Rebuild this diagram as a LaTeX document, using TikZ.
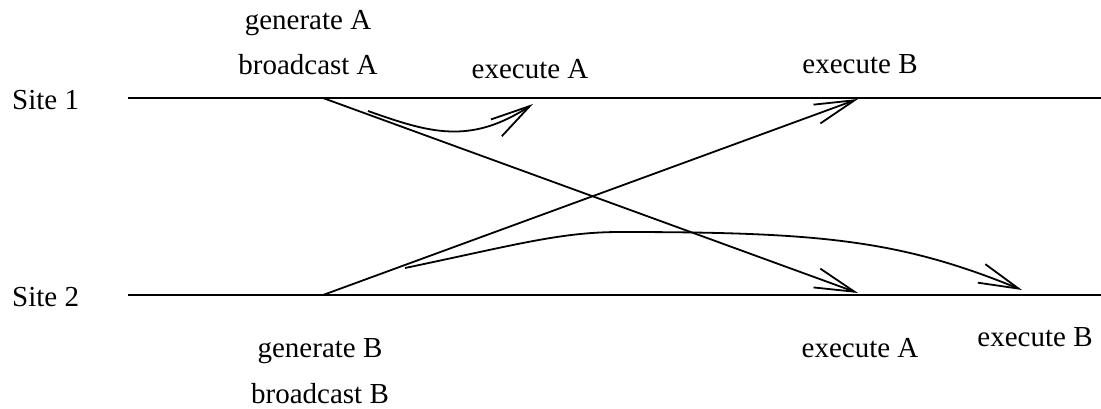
\documentclass[tikz,border=0pt]{standalone}
\usepackage{fontspec}
\setmainfont{Liberation Serif}
\usetikzlibrary{arrows.meta}
\begin{document}
\begin{tikzpicture}[x=1pt,y=-1pt]
	\tikzset{lbl/.style={anchor=base, inner sep=0pt, font=\rmfamily\fontsize{29}{34}\selectfont},
		msg/.style={line width=1.8pt, -{Straight Barb[length=40pt,width=20pt,line width=1.8pt]}}}
	\useasboundingbox (0,0) rectangle (1101,408);
	% time lines of the two sites
	\coordinate (s1a) at (128,98);
	\coordinate (s1b) at (1101,98);
	\coordinate (s2a) at (128,295);
	\coordinate (s2b) at (1101,295);
	\draw[line width=1.1pt] (s1a) -- (s1b);
	\draw[line width=1.1pt] (s2a) -- (s2b);
	\node[lbl,anchor=base west] (site1) at (12,109) {Site 1};
	\node[lbl,anchor=base west] (site2) at (12,306) {Site 2};
	% events
	\coordinate (genA)  at (323,98);
	\coordinate (genB)  at (323,295);
	\coordinate (exA2)  at (858,293);
	\coordinate (exB1)  at (858,99);
	\coordinate (locA0) at (368,111);
	\coordinate (locA1) at (533,104);
	\coordinate (locB0) at (405,268);
	\coordinate (locBm) at (620,232);
	\coordinate (locB1) at (1022,290);
	\draw[msg] (genA) -- (exA2);
	\draw[msg] (genB) -- (exB1);
	\draw[msg] (locA0) .. controls (430,133) and (470,145) .. (locA1);
	\draw[msg] (locB0) .. controls (515,245) and (560,232) .. (locBm)
		.. controls (820,232) and (900,240) .. (locB1);
	% labels
	\node[lbl] (tgenA) at (308,29)  {generate A};
	\node[lbl] (tbcA)  at (308,74)  {broadcast A};
	\node[lbl] (texA1) at (530,78)  {execute A};
	\node[lbl] (texB1) at (860,73)  {execute B};
	\node[lbl] (tgenB) at (320,357) {generate B};
	\node[lbl] (tbcB)  at (320,403) {broadcast B};
	\node[lbl] (texA2) at (860,357) {execute A};
	\node[lbl] (texB2) at (1035,346) {execute B};
\end{tikzpicture}
\end{document}
